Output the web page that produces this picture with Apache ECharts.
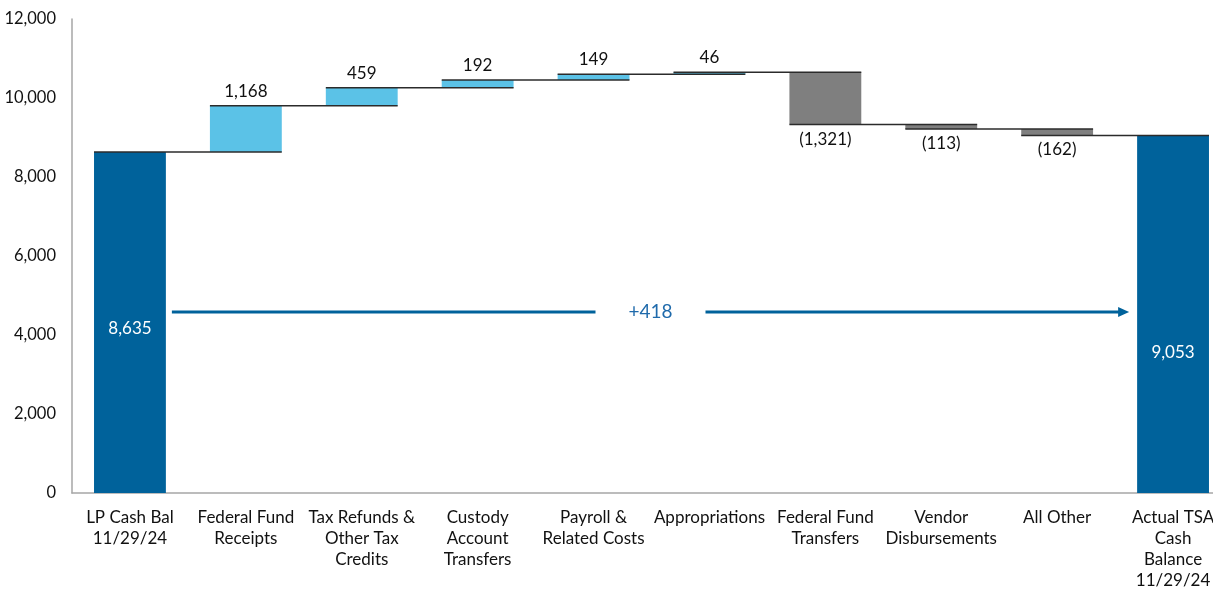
<!DOCTYPE html>
<html>
<head>
<meta charset="utf-8">
<script src="https://cdn.jsdelivr.net/npm/echarts@6/dist/echarts.min.js"></script>
<style>
  html, body { margin: 0; padding: 0; background: #fff; }
  #chart { width: 1213px; height: 590px; }
</style>
</head>
<body>
<div id="chart"></div>
<script>
// categories and the changes between the two balances
const categories = [
  'LP Cash Bal\n11/29/24',
  'Federal Fund\nReceipts',
  'Tax Refunds &\nOther Tax\nCredits',
  'Custody\nAccount\nTransfers',
  'Payroll &\nRelated Costs',
  'Appropriations',
  'Federal Fund\nTransfers',
  'Vendor\nDisbursements',
  'All Other',
  'Actual TSA\nCash\nBalance\n11/29/24'
];
const startBalance = 8635;
const changes = [1168, 459, 192, 149, 46, -1321, -113, -162];
const endBalance = 9053;
const netChange = '+418';
const arrowLevel = 4580;
const yTicks = [0, 2000, 4000, 6000, 8000, 10000, 12000];

const DARK = '#00629B';
const LIGHT = '#5BC2E7';
const GREY = '#7F7F7F';
const FONT = 'Lato, "Open Sans", sans-serif';

const fmt = v => {
  const s = Math.abs(v).toLocaleString('en-US');
  return v < 0 ? '(' + s + ')' : s;
};

// build stacked waterfall pieces
const base = [];
const bars = [];
const levels = [];
let running = startBalance;
base.push(0);
bars.push({ value: startBalance, itemStyle: { color: DARK },
  label: { show: true, position: 'inside', offset: [0, 6], color: '#fff', formatter: fmt(startBalance) } });
levels.push([0, running]);
changes.forEach((c, i) => {
  const next = running + c;
  base.push(Math.min(running, next));
  bars.push({
    value: Math.abs(c),
    itemStyle: { color: c >= 0 ? LIGHT : GREY },
    label: {
      show: true,
      position: c >= 0 ? 'top' : 'bottom',
      distance: 6,
      color: '#111',
      formatter: fmt(c)
    }
  });
  running = next;
  levels.push([i + 1, running]);
});
base.push(0);
bars.push({ value: endBalance, itemStyle: { color: DARK },
  label: { show: true, position: 'inside', offset: [0, 38], color: '#fff', formatter: fmt(endBalance) } });

const BAR_RATIO = 0.62;

const chart = echarts.init(document.getElementById('chart'));
chart.setOption({
  animation: false,
  textStyle: { fontFamily: FONT },
  grid: { left: 72, right: -18, top: 19, bottom: 97, outerBoundsMode: 'none', containLabel: false },
  xAxis: {
    type: 'category',
    data: categories,
    axisTick: { show: false },
    axisLine: { lineStyle: { color: '#A6A6A6', width: 1.5 } },
    axisLabel: { color: '#111', fontSize: 17, lineHeight: 21, margin: 14, interval: 0, fontFamily: FONT }
  },
  yAxis: {
    type: 'value',
    min: 0, max: 12000, interval: 2000,
    splitLine: { show: false },
    axisTick: { show: false },
    axisLine: { show: true, lineStyle: { color: '#A6A6A6', width: 1.5 } },
    axisLabel: { color: '#111', fontSize: 16.5, margin: 16, fontFamily: FONT,
      formatter: v => v.toLocaleString('en-US') }
  },
  series: [
    {
      type: 'bar', stack: 'w', data: base, barWidth: (BAR_RATIO * 100) + '%',
      itemStyle: { color: 'transparent' }, silent: true
    },
    {
      type: 'bar', stack: 'w', data: bars, barWidth: (BAR_RATIO * 100) + '%',
      label: { fontSize: 17, fontFamily: FONT }
    },
    {
      // connector lines between running totals
      type: 'custom',
      data: levels,
      z: 5,
      renderItem: (params, api) => {
        const i = api.value(0), v = api.value(1);
        const p0 = api.coord([i, v]);
        const p1 = api.coord([i + 1, v]);
        const bw = api.size([1, 0])[0] * BAR_RATIO;
        return {
          type: 'line',
          shape: { x1: p0[0] - bw / 2, y1: p0[1], x2: p1[0] + bw / 2, y2: p1[1] },
          style: { stroke: '#2b2b2b', lineWidth: 1.5 }
        };
      }
    },
    {
      // net change arrow
      type: 'custom',
      data: [[0, categories.length - 1, arrowLevel]],
      z: 6,
      renderItem: (params, api) => {
        const a = api.value(0), b = api.value(1), v = api.value(2);
        const pa = api.coord([a, v]);
        const pb = api.coord([b, v]);
        const bw = api.size([1, 0])[0] * BAR_RATIO;
        const x1 = pa[0] + bw / 2 + 6;
        const x2 = pb[0] - bw / 2 - 8;
        const y = pa[1];
        const mid = (x1 + x2) / 2;
        const gap = 55;
        return {
          type: 'group',
          children: [
            { type: 'line', shape: { x1: x1, y1: y, x2: mid - gap, y2: y },
              style: { stroke: DARK, lineWidth: 3 } },
            { type: 'line', shape: { x1: mid + gap, y1: y, x2: x2 - 10, y2: y },
              style: { stroke: DARK, lineWidth: 3 } },
            { type: 'polygon', shape: { points: [[x2 - 11, y - 5], [x2, y], [x2 - 11, y + 5]] },
              style: { fill: DARK } },
            { type: 'text', x: mid, y: y,
              style: { text: netChange, fill: '#1F6AAB', fontSize: 19, fontFamily: FONT,
                align: 'center', verticalAlign: 'middle' } }
          ]
        };
      }
    }
  ]
});
</script>
</body>
</html>
